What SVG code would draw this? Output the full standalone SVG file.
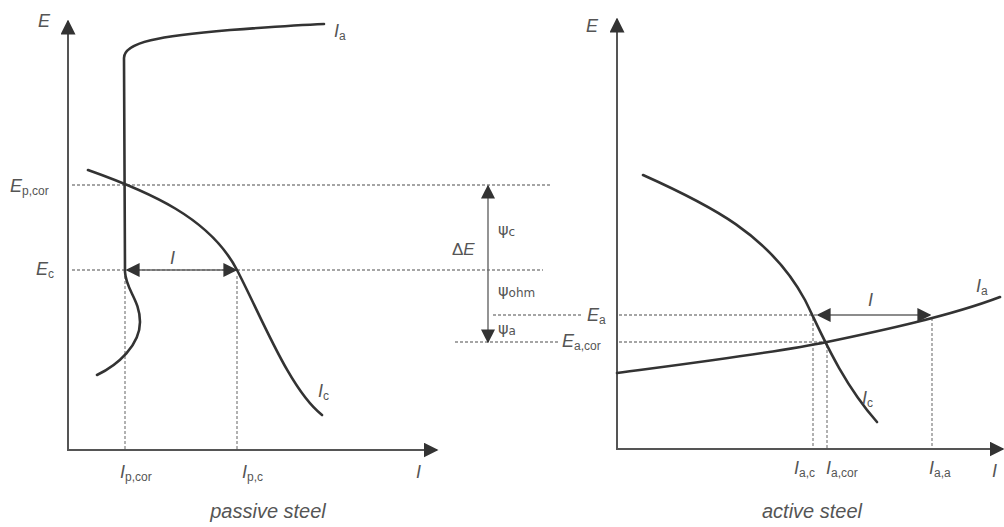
<svg xmlns="http://www.w3.org/2000/svg" width="1004" height="527" viewBox="0 0 1004 527">
<style>
.ax{stroke:#555;stroke-width:2;fill:none}
.cv{stroke:#333;stroke-width:2.6;fill:none;stroke-linecap:round}
.ds{stroke:#888;stroke-width:1.3;stroke-dasharray:3 2;fill:none}
.ar{stroke:#666;stroke-width:1.4;fill:none}
text{font-family:"Liberation Sans",Arial,sans-serif;fill:#555}
.it{font-style:italic}
.lab{font-size:18px;font-style:italic}
.sub{font-size:12px;font-style:normal}
.ttl{font-size:20px;font-style:italic}
.psi{font-family:"DejaVu Sans",sans-serif;font-size:16px}
</style>
<defs>
<marker id="ah" viewBox="0 0 10 10" refX="9" refY="5" markerWidth="14" markerHeight="14" markerUnits="userSpaceOnUse" orient="auto-start-reverse">
<path d="M0,0 L10,5 L0,10 z" fill="#333"/>
</marker>
<marker id="axh" viewBox="0 0 10 10" refX="9" refY="5" markerWidth="15" markerHeight="15" markerUnits="userSpaceOnUse" orient="auto">
<path d="M0,0 L10,5 L0,10 z" fill="#333"/>
</marker>
</defs>

<g id="connectors">
<line class="ds" x1="72" y1="185" x2="552" y2="185"/>
<line class="ds" x1="72" y1="270" x2="543" y2="270"/>
<line class="ds" x1="493" y1="315" x2="582" y2="315"/>
<line class="ds" x1="455" y1="342" x2="560" y2="342"/>
<line class="ds" x1="125" y1="276" x2="125" y2="449"/>
<line class="ds" x1="237" y1="276" x2="237" y2="449"/>
<line class="ds" x1="619" y1="315" x2="817" y2="315"/>
<line class="ds" x1="619" y1="342" x2="827" y2="342"/>
<line class="ds" x1="813" y1="318" x2="813" y2="448"/>
<line class="ds" x1="827" y1="345" x2="827" y2="448"/>
<line class="ds" x1="932" y1="318" x2="932" y2="448"/>
<line class="ar" x1="127" y1="270" x2="236" y2="270" marker-start="url(#ah)" marker-end="url(#ah)"/>
<line class="ar" x1="488" y1="186" x2="488" y2="342" marker-start="url(#ah)" marker-end="url(#ah)"/>
<line class="ar" x1="818" y1="315" x2="930" y2="315" marker-start="url(#ah)" marker-end="url(#ah)"/>
</g>

<g id="passive-axes">
<line class="ax" x1="68" y1="450" x2="68" y2="21" marker-end="url(#axh)"/>
<line class="ax" x1="67" y1="450" x2="437" y2="450" marker-end="url(#axh)"/>
<text class="lab" x="38" y="27">E</text>
<text class="lab" x="416" y="478">I</text>
</g>

<g id="passive-anodic">
<path class="cv" d="M97,375 C118,365 140,345 140,322 C140,300 126,290 125,272 L124,58 C124,42 160,36 230,30 C270,27 300,25 324,24"/>
<text class="lab" x="334" y="37">I<tspan class="sub" dy="3">a</tspan></text>
</g>

<g id="passive-cathodic">
<path class="cv" d="M88,170 C150,192 210,218 237,270 C262,318 290,390 322,415"/>
<text class="lab" x="318" y="397">I<tspan class="sub" dy="3">c</tspan></text>
</g>

<g id="passive-labels">
<text class="lab" x="10" y="192">E<tspan class="sub" dy="3">p,cor</tspan></text>
<text class="lab" x="36" y="275">E<tspan class="sub" dy="3">c</tspan></text>
<text class="lab" x="170" y="264">I</text>
<text class="lab" x="120" y="478">I<tspan class="sub" dy="3">p,cor</tspan></text>
<text class="lab" x="242" y="478">I<tspan class="sub" dy="3">p,c</tspan></text>
<text class="ttl" x="268" y="518" text-anchor="middle">passive steel</text>
</g>

<g id="delta-e">
<text x="452" y="255" style="font-size:17px"><tspan>Δ</tspan><tspan class="it">E</tspan></text>
<text class="psi" x="498" y="235">ψ<tspan style="font-size:12px" dy="1">c</tspan></text>
<text class="psi" x="498" y="296">ψ<tspan style="font-size:12px" dy="1">ohm</tspan></text>
<text class="psi" x="498" y="334">ψ<tspan style="font-size:12px" dy="1">a</tspan></text>
</g>

<g id="active-axes">
<line class="ax" x1="617" y1="450" x2="617" y2="19" marker-end="url(#axh)"/>
<line class="ax" x1="616" y1="449" x2="1003" y2="449" marker-end="url(#axh)"/>
<text class="lab" x="586" y="32">E</text>
<text class="lab" x="992" y="477">I</text>
</g>

<g id="active-cathodic">
<path class="cv" d="M643,175 C710,205 770,235 805,300 C820,330 840,380 877,422"/>
<text class="lab" x="862" y="404">I<tspan class="sub" dy="3">c</tspan></text>
</g>

<g id="active-anodic">
<path class="cv" d="M617,373 C700,362 780,352 827,342 C880,331 950,316 1000,297"/>
<text class="lab" x="976" y="292">I<tspan class="sub" dy="3">a</tspan></text>
</g>

<g id="active-labels">
<text class="lab" x="587" y="321">E<tspan class="sub" dy="3">a</tspan></text>
<text class="lab" x="562" y="347">E<tspan class="sub" dy="3">a,cor</tspan></text>
<text class="lab" x="868" y="306">I</text>
<text class="lab" x="794" y="474">I<tspan class="sub" dy="3">a,c</tspan></text>
<text class="lab" x="826" y="474">I<tspan class="sub" dy="3">a,cor</tspan></text>
<text class="lab" x="929" y="474">I<tspan class="sub" dy="3">a,a</tspan></text>
<text class="ttl" x="812" y="518" text-anchor="middle">active steel</text>
</g>
</svg>
